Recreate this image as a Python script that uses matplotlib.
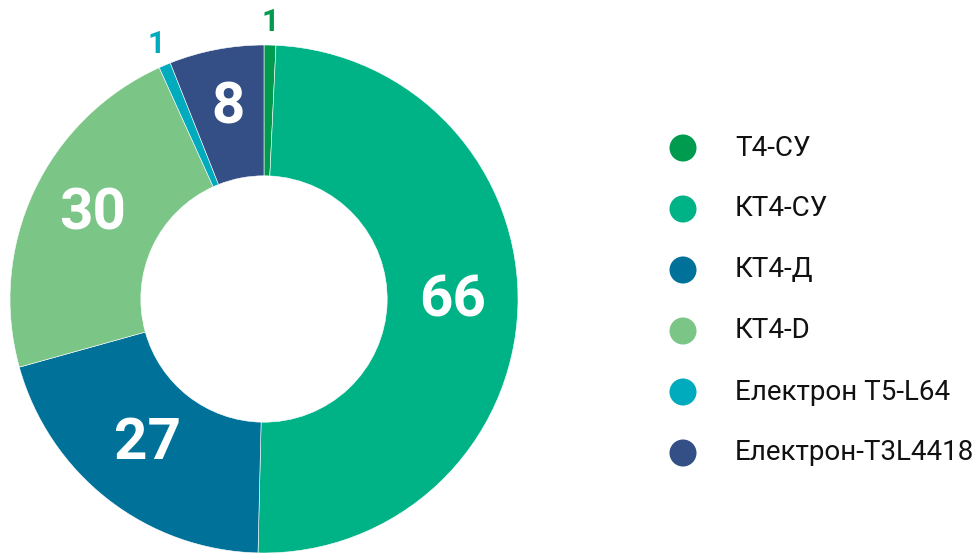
import matplotlib
matplotlib.use("Agg")
import matplotlib.pyplot as plt
import numpy as np

plt.rcParams["font.family"] = ["Roboto", "DejaVu Sans"]

labels = ["T4-СУ", "КТ4-СУ", "КТ4-Д", "КТ4-D", "Електрон T5-L64", "Електрон-T3L4418"]
values = [1, 66, 27, 30, 1, 8]
colors = ["#009B4E", "#00B386", "#00729A", "#7BC587", "#00ABBD", "#344F86"]

W, H = 980, 553
fig = plt.figure(figsize=(W / 100, H / 100), dpi=100)

# donut: centre (264, 299) px, outer radius 254 px
cx, cy, R = 264, 299, 254
ax = fig.add_axes([(cx - R) / W, (H - cy - R) / H, 2 * R / W, 2 * R / H])

inner = 0.485
wedges, _ = ax.pie(values, colors=colors, startangle=90, counterclock=False,
                   radius=1, wedgeprops=dict(width=1 - inner, edgecolor="white", linewidth=0.4))
# pie() resets the limits, so set them afterwards
ax.set_xlim(-1, 1)
ax.set_ylim(-1, 1)
ax.set_aspect("equal")
ax.axis("off")

total = sum(values)
cum = np.cumsum([0] + values[:-1])
for v, c0, col in zip(values, cum, colors):
    mid = np.deg2rad(90 - (c0 + v / 2) / total * 360)
    if v / total > 0.03:
        r = 0.745
        ax.text(r * np.cos(mid), r * np.sin(mid) + 0.02, str(v), color="white",
                fontsize=42, fontweight="bold", ha="center", va="center")
    else:
        r = 1.09
        ax.text(r * np.cos(mid), r * np.sin(mid), str(v), color=col,
                fontsize=22, fontweight="bold", ha="center", va="center",
                clip_on=False)

# legend
lax = fig.add_axes([0, 0, 1, 1])
lax.set_xlim(0, W)
lax.set_ylim(H, 0)
lax.axis("off")
row_y = 148 + 61 * np.arange(len(labels))
lax.scatter([683] * len(labels), row_y, s=27 ** 2 * 0.52, c=colors, linewidths=0)
for y, lab in zip(row_y, labels):
    lax.text(735, y, lab, fontsize=20, color="#111111", ha="left", va="center")

fig.savefig("out.png", dpi=100)
